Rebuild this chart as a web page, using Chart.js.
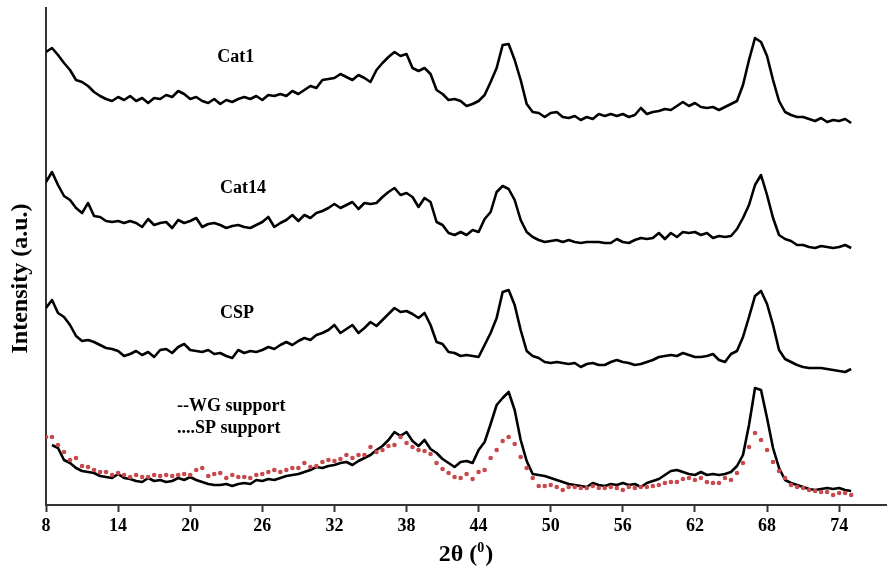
<!DOCTYPE html>
<html>
<head>
<meta charset="utf-8">
<script src="https://cdn.jsdelivr.net/npm/chart.js@4.4.1/dist/chart.umd.min.js"></script>
<style>
  html, body { margin: 0; padding: 0; background: #fff; }
  #wrap { width: 890px; height: 575px; }
</style>
</head>
<body>
<div id="wrap"><canvas id="xrdChart" width="890" height="575"></canvas></div>
<script>
// 2θ grid: 8.0 .. 75.0 in 0.5° steps
const thetaStart = 8;
const thetaStep = 0.5;
const xTicks = [8, 14, 20, 26, 32, 38, 44, 50, 56, 62, 68, 74];

// intensities (a.u.), already offset for the stacked display
const cat1 = [
  453, 457, 450, 442, 435, 425, 423, 419, 413,
  409, 406, 404, 408, 405, 409, 404, 407, 402, 407,
  406, 410, 408, 414, 411, 406, 408, 404, 402, 406,
  401, 405, 403, 406, 408, 406, 409, 405, 410, 409,
  411, 409, 414, 411, 415, 419, 417, 425, 426, 427,
  431, 428, 425, 430, 427, 423, 435, 442, 448, 453,
  449, 451, 437, 434, 437, 431, 415, 411, 405, 406,
  404, 399, 401, 404, 410, 423, 437, 460, 461, 445,
  425, 401, 393, 392, 388, 392, 393, 388, 387, 389,
  385, 388, 386, 391, 389, 391, 389, 391, 388, 390,
  397, 391, 393, 394, 396, 395, 399, 403, 399, 402,
  398, 397, 398, 395, 398, 401, 404, 420, 445, 467,
  463, 449, 425, 404, 393, 390, 388, 388, 386, 384,
  387, 383, 385, 384, 386, 382
];

const cat14 = [
  323, 333, 320, 309, 305, 297, 292, 302, 289,
  288, 284, 283, 284, 282, 284, 282, 278, 286, 280,
  282, 283, 277, 285, 282, 284, 287, 278, 281, 282,
  280, 277, 279, 280, 278, 277, 280, 283, 288, 278,
  282, 285, 290, 284, 290, 287, 292, 294, 297, 301,
  297, 300, 303, 296, 302, 301, 302, 308, 313, 317,
  310, 312, 308, 298, 307, 303, 283, 280, 272, 270,
  273, 270, 275, 273, 286, 293, 313, 319, 316, 305,
  285, 273, 268, 265, 263, 264, 265, 263, 265, 263,
  262, 263, 263, 263, 262, 262, 266, 263, 262, 265,
  267, 266, 267, 272, 266, 272, 268, 273, 272, 273,
  270, 272, 267, 269, 268, 269, 276, 287, 300, 320,
  330, 310, 287, 270, 266, 264, 260, 260, 258, 257,
  259, 258, 257, 258, 260, 257
];

const csp = [
  197, 205, 192, 188, 180, 169, 164, 165, 163,
  160, 157, 156, 154, 149, 151, 154, 150, 153, 148,
  155, 156, 152, 158, 161, 155, 154, 153, 155, 151,
  152, 149, 147, 155, 152, 154, 153, 155, 158, 156,
  160, 163, 160, 164, 167, 165, 170, 172, 175, 180,
  172, 176, 180, 172, 177, 183, 179, 185, 191, 197,
  193, 194, 191, 187, 192, 180, 163, 161, 153, 152,
  149, 150, 149, 148, 160, 172, 187, 213, 215, 200,
  175, 154, 149, 147, 143, 142, 143, 142, 141, 142,
  138, 141, 142, 140, 140, 143, 145, 143, 142, 140,
  141, 143, 145, 148, 149, 150, 149, 152, 150, 148,
  148, 149, 151, 145, 143, 151, 154, 168, 188, 209,
  214, 201, 180, 155, 146, 143, 140, 138, 137, 137,
  137, 136, 135, 134, 133, 136
];

const wgSupport = [
  null, 60, 57, 45, 42, 37, 34, 33, 32,
  29, 28, 27, 31, 27, 26, 24, 23, 27, 24,
  25, 23, 24, 27, 25, 28, 25, 23, 21, 20,
  20, 21, 19, 21, 22, 21, 25, 24, 26, 25,
  27, 29, 30, 31, 33, 35, 38, 37, 39, 40,
  42, 43, 40, 44, 47, 50, 55, 59, 65, 73,
  69, 73, 64, 59, 65, 56, 52, 46, 42, 38,
  43, 44, 42, 55, 63, 81, 100, 107, 113, 95,
  65, 44, 31, 30, 29, 27, 25, 23, 21, 20,
  19, 18, 22, 20, 19, 21, 20, 22, 20, 21,
  18, 22, 24, 26, 30, 34, 35, 33, 31, 30,
  33, 30, 31, 30, 31, 33, 39, 50, 80, 117,
  115, 87, 57, 37, 25, 22, 20, 18, 16, 15,
  16, 17, 16, 17, 15, 14
];

const spSupport = [
  68, 68, 60, 53, 45, 47, 39, 38, 35,
  33, 33, 30, 32, 30, 28, 30, 28, 28, 30,
  29, 30, 29, 30, 31, 30, 35, 37, 29, 31,
  32, 27, 30, 28, 28, 27, 30, 31, 33, 35,
  33, 35, 37, 37, 42, 38, 39, 43, 45, 44,
  46, 50, 47, 50, 50, 58, 53, 55, 59, 60,
  68, 62, 58, 55, 54, 51, 42, 36, 32, 28,
  27, 31, 26, 33, 35, 47, 55, 64, 68, 61,
  48, 37, 27, 19, 19, 20, 18, 15, 18, 18,
  17, 17, 19, 17, 17, 18, 17, 15, 18, 17,
  18, 18, 19, 20, 22, 23, 23, 26, 27, 25,
  27, 23, 22, 22, 27, 25, 32, 42, 58, 72,
  65, 55, 43, 34, 27, 20, 18, 17, 15, 14,
  13, 13, 10, 12, 12, 10
];

const serif = '"Liberation Serif", "Times New Roman", serif';

const toPoints = (vals) =>
  vals.map((v, i) => ({ x: thetaStart + i * thetaStep, y: v }));

const lineSet = (label, vals) => ({
  label,
  data: toPoints(vals),
  borderColor: "#000",
  borderWidth: 2.6,
  pointRadius: 0,
  tension: 0,
  fill: false,
  borderJoinStyle: "round",
});

// sample names, anchored in data coordinates
const sampleLabels = [
  { text: "Cat1", at: [23.8, 448], align: "center" },
  { text: "Cat14", at: [24.4, 317], align: "center" },
  { text: "CSP", at: [23.9, 192], align: "center" },
  { text: "--WG support", at: [18.9, 99], align: "left" },
  { text: "....SP support", at: [18.9, 77], align: "left" },
];

const textPlugin = {
  id: "xrdText",
  afterDraw(chart) {
    const { ctx, chartArea } = chart;
    const { x, y } = chart.scales;
    ctx.save();
    ctx.fillStyle = "#000";
    ctx.textBaseline = "middle";
    ctx.font = `bold 18px ${serif}`;
    sampleLabels.forEach((l) => {
      ctx.textAlign = l.align;
      ctx.fillText(l.text, x.getPixelForValue(l.at[0]), y.getPixelForValue(l.at[1]));
    });

    // x title: 2θ (⁰) with a small raised zero
    const big = `bold 24px ${serif}`;
    const small = `bold 14px ${serif}`;
    ctx.textAlign = "left";
    ctx.textBaseline = "alphabetic";
    ctx.font = big;
    const wA = ctx.measureText("2θ (").width;
    const wC = ctx.measureText(")").width;
    ctx.font = small;
    const wB = ctx.measureText("0").width + 1;
    const cx = (chartArea.left + chartArea.right) / 2;
    let tx = cx - (wA + wB + wC) / 2;
    const base = 561;
    ctx.font = big;
    ctx.fillText("2θ (", tx, base);
    tx += wA;
    ctx.font = small;
    ctx.fillText("0", tx, base - 9);
    tx += wB;
    ctx.font = big;
    ctx.fillText(")", tx, base);

    ctx.translate(21, (chartArea.top + chartArea.bottom) / 2 + 22);
    ctx.rotate(-Math.PI / 2);
    ctx.font = `bold 24px ${serif}`;
    ctx.textAlign = "center";
    ctx.textBaseline = "middle";
    ctx.fillText("Intensity (a.u.)", 0, 0);
    ctx.restore();
  },
};

new Chart(document.getElementById("xrdChart"), {
  type: "line",
  data: {
    datasets: [
      lineSet("Cat1", cat1),
      lineSet("Cat14", cat14),
      lineSet("CSP", csp),
      {
        label: "SP support",
        data: toPoints(spSupport),
        showLine: false,
        pointRadius: 2.3,
        pointBackgroundColor: "#c8484b",
        pointBorderWidth: 0,
      },
      lineSet("WG support", wgSupport),
    ],
  },
  options: {
    responsive: false,
    animation: false,
    layout: { padding: { top: 8, right: 2, left: 0, bottom: 0 } },
    plugins: {
      legend: { display: false },
      tooltip: { enabled: false },
    },
    scales: {
      x: {
        type: "linear",
        min: 8,
        max: 77.9,
        afterBuildTicks: (scale) => {
          scale.ticks = xTicks.map((v) => ({ value: v }));
        },
        afterFit: (scale) => {
          scale.height = 70;
        },
        grid: {
          drawOnChartArea: false,
          tickLength: 7,
          tickWidth: 2,
          tickColor: "#333",
          color: "#333",
        },
        border: { color: "#333", width: 2 },
        ticks: {
          color: "#000",
          padding: 4,
          autoSkip: false,
          maxRotation: 0,
          font: { family: serif, size: 18, weight: "bold" },
        },
      },
      y: {
        min: 0,
        max: 497,
        afterFit: (scale) => {
          scale.width = 46;
        },
        ticks: { display: false },
        grid: { drawOnChartArea: false, drawTicks: false },
        border: { color: "#333", width: 2 },
      },
    },
  },
  plugins: [textPlugin],
});
</script>
</body>
</html>
